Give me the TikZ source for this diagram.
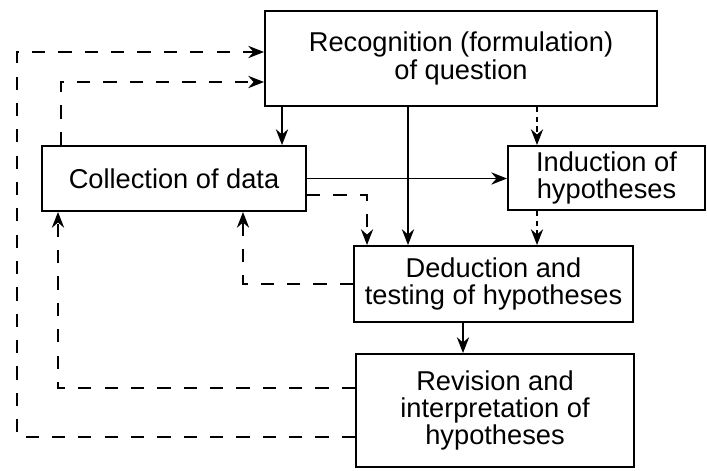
\documentclass[tikz,border=0pt]{standalone}
\usepackage{fontspec}
\setmainfont{Liberation Sans}
\usetikzlibrary{arrows.meta}

\tikzset{
  box/.style={draw, line width=1.1pt, inner sep=0pt, align=center,
              font=\fontsize{15.5}{15.5}\selectfont},
  arr/.style={line width=1pt, -{Stealth[length=9pt,width=7pt,inset=3pt]}},
  dasharr/.style={arr, dash pattern=on 7.5pt off 7.5pt},
  finearr/.style={arr, line width=0.8pt, dash pattern=on 3pt off 2.5pt},
}

\begin{document}
\begin{tikzpicture}

\useasboundingbox (0,0) rectangle (14.14,9.4);

%% boxes
\node[box, minimum width=7.84cm, minimum height=1.9cm]  (rec) at (9.22,8.23) {Recognition (formulation)\\of question};
\node[box, minimum width=5.28cm, minimum height=1.3cm]  (col) at (3.48,5.83) {Collection of data};
\node[box, minimum width=3.94cm, minimum height=1.28cm] (ind) at (12.13,5.84) {Induction of\\hypotheses};
\node[box, minimum width=5.58cm, minimum height=1.52cm] (ded) at (9.87,3.72) {Deduction and\\testing of hypotheses};
\node[box, minimum width=5.56cm, minimum height=2.26cm] (rev) at (9.9,1.19) {Revision and\\interpretation of\\hypotheses};

%% x and y positions of the connectors
\coordinate (xa) at (5.64,0);   %% rec -> col
\coordinate (xb) at (8.16,0);   %% rec -> ded
\coordinate (xc) at (10.74,0);  %% rec -> ind -> ded
\coordinate (xd) at (7.34,0);   %% col -> ded
\coordinate (xe) at (9.26,0);   %% ded -> rev
\coordinate (xf) at (4.86,0);   %% ded -> col
\coordinate (xg) at (1.16,0);   %% rev -> col
\coordinate (xh) at (0.34,0);   %% rev -> rec
\coordinate (xi) at (1.22,0);   %% col -> rec
\coordinate (ya) at (0,5.5);    %% col -> ded
\coordinate (yb) at (0,1.64);   %% rev -> col
\coordinate (yc) at (0,0.66);   %% rev -> rec
\coordinate (yd) at (0,8.36);   %% rev -> rec
\coordinate (ye) at (0,7.76);   %% col -> rec

%% solid connectors
\draw[arr] (rec.south -| xa) -- (col.north -| xa);   %% rec col
\draw[arr] (rec.south -| xb) -- (ded.north -| xb);   %% rec ded
\draw[arr] (col.east) -- (ind.west |- col.east);     %% col ind
\draw[arr] (ded.south -| xe) -- (rev.north -| xe);   %% ded rev

%% dashed connectors
\draw[finearr] (rec.south -| xc) -- (ind.north -| xc);      %% rec ind
\draw[finearr] (ind.south -| xc) -- (ded.north -| xc);      %% ind ded
\draw[dasharr] (col.east |- ya) -| (ded.north -| xd);       %% col ded
\draw[dasharr] (ded.west) -| (col.south -| xf);             %% ded col
\draw[dasharr] (rev.west |- yb) -| (col.south -| xg);       %% rev col
\draw[dasharr] (rev.west |- yc) -| (xh |- yd) -- (rec.west |- yd); %% rev rec
\draw[dasharr] (col.north -| xi) |- (rec.west |- ye);       %% col rec

\end{tikzpicture}
\end{document}
